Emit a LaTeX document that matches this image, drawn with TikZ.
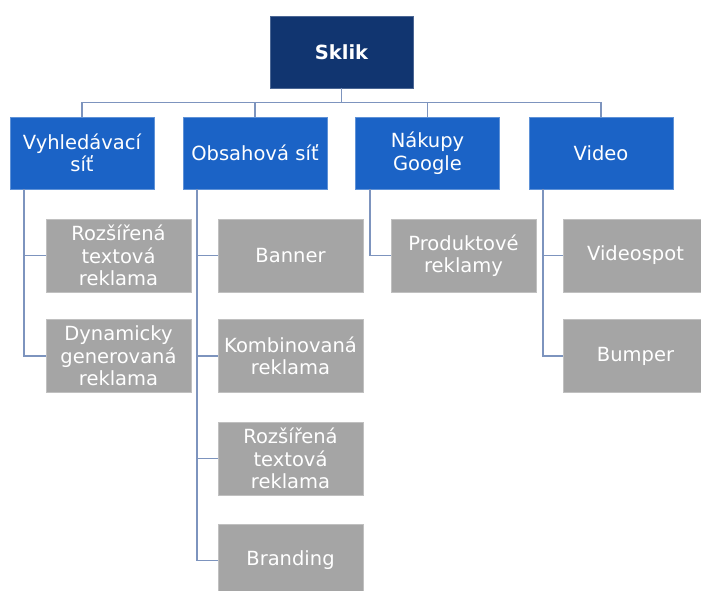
\documentclass[tikz,border=0pt]{standalone}
\usepackage{fontspec}
\setmainfont{DejaVu Sans}
\usepackage{xcolor}
\usepackage{tikz}
\usetikzlibrary{
	positioning,    % posizionamento relativo
	calc            % coordinate calcolate
}
\definecolor{bluscuro}{HTML}{113570}
\definecolor{blumedio}{HTML}{1B63C6}
\definecolor{grigio}{HTML}{A5A5A5}
\definecolor{linea}{HTML}{7D94BE}

\begin{document}
\begin{tikzpicture}[
			x=1pt, y=-1pt,
			% Stile comune dei riquadri
			riquadro/.style={
				inner sep=0pt, align=center, text=white,
				line width=0.6pt,
				font=\fontsize{19.5}{22.5}\selectfont
			},
			radice/.style={riquadro, fill=bluscuro, draw=bluscuro!75!white,
				text width=143pt, minimum height=72pt, font=\fontsize{19.5}{22.5}\selectfont\bfseries},
			ramo/.style={riquadro, fill=blumedio, draw=blumedio!70!white,
				text width=144pt, minimum height=72pt},
			foglia/.style={riquadro, fill=grigio, draw=grigio!70!white,
				text width=145pt, minimum height=73pt},
			collegamento/.style={draw=linea, line width=1.6pt}
			]
			
			% --- Area del disegno ---
			\useasboundingbox (0,0) rectangle (701,590);
			
			% --- Radice ---
			\node[radice] (sklik) at (341.5,52) {Sklik};
			
			% --- Rami ---
			\node[ramo] (vyhl)  at (82,153)    {Vyhledávací\\síť};
			\node[ramo] (obsah) at (255,153)   {Obsahová síť};
			\node[ramo] (nakup) at (427.5,153) {Nákupy\\Google};
			\node[ramo] (video) at (601,153)   {Video};
			
			% --- Foglie ---
			\node[foglia] (vyhlA)  at (118.5,255.5) {Rozšířená\\textová\\reklama};
			\node[foglia] (vyhlB)  at (118.5,356)   {Dynamicky\\generovaná\\reklama};
			
			\node[foglia] (obsahA) at (290.5,255.5) {Banner};
			\node[foglia] (obsahB) at (290.5,356)   {Kombinovaná\\reklama};
			\node[foglia] (obsahC) at (290.5,458.5) {Rozšířená\\textová\\reklama};
			\node[foglia] (obsahD) at (290.5,560.5) {Branding};
			
			\node[foglia] (nakupA) at (463.5,255.5) {Produktové\\reklamy};
			
			\node[foglia] (videoA) at (635.5,255.5) {Videospot};
			\node[foglia] (videoB) at (635.5,356)   {Bumper};
			
			% --- Collegamenti radice -> rami ---
			\draw[collegamento] (sklik.south) -- ++(0,14) coordinate (bus);
			\foreach \r in {vyhl, obsah, nakup, video}
				\draw[collegamento] (bus) -| (\r.north);
			
			% --- Collegamenti rami -> foglie ---
			\foreach \p/\f in {vyhl/vyhlA, vyhl/vyhlB,
				obsah/obsahA, obsah/obsahB, obsah/obsahC, obsah/obsahD,
				nakup/nakupA, video/videoA, video/videoB}
				\draw[collegamento] ([xshift=14.5pt]\p.south west) |- (\f.west);
			
		\end{tikzpicture}
\end{document}
